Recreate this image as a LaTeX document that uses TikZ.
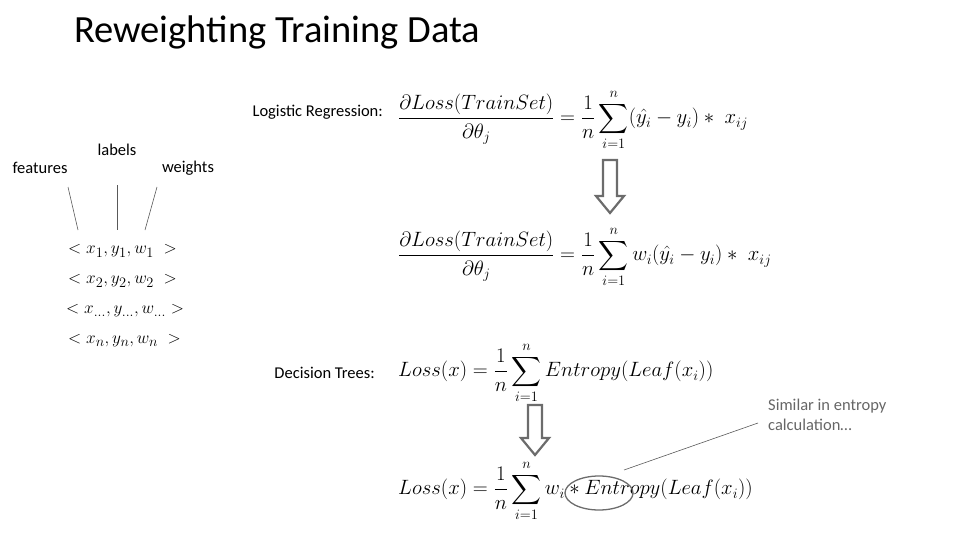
\documentclass[tikz,border=0pt]{standalone}
\usepackage{amsmath}
\usepackage{fontspec}
\setmainfont{Carlito}
\usetikzlibrary{shapes.geometric}
\begin{document}
\begin{tikzpicture}[x=1pt,y=-1pt,
  lbl/.style={font=\fontsize{16.5}{20}\selectfont, inner sep=0pt},
  frm/.style={font=\fontsize{20}{24}\selectfont, inner sep=0pt},
  tup/.style={font=\fontsize{19}{23}\selectfont, inner sep=0pt, anchor=west},
  hollow/.style={draw=gray!85!black, line width=2.2pt, fill=white},
  thin/.style={draw=gray!70!black, line width=0.6pt}]
\useasboundingbox (0,0) rectangle (960,540);
\node[anchor=west, font=\fontsize{38.5}{44}\selectfont, inner sep=0pt] (title) at (74,32) {Reweighting Training Data};
\node[lbl, anchor=east] (lr) at (383,112) {Logistic Regression:};
\node[frm, anchor=west] (f1) at (398,120) {$\displaystyle\frac{\partial Loss(TrainSet)}{\partial\theta_j}=\frac{1}{n}\sum_{i=1}^{n}(\hat{y_i}-y_i)*\;x_{ij}$};
\node[frm, anchor=west] (f2) at (398,257) {$\displaystyle\frac{\partial Loss(TrainSet)}{\partial\theta_j}=\frac{1}{n}\sum_{i=1}^{n}w_i(\hat{y_i}-y_i)*\;x_{ij}$};
\node[lbl, anchor=east] (dt) at (375,373) {Decision Trees:};
\node[frm, anchor=west] (f3) at (398,373) {$\displaystyle Loss(x)=\frac{1}{n}\sum_{i=1}^{n}Entropy(Leaf(x_i))$};
\node[frm, anchor=west] (f4) at (398,491) {$\displaystyle Loss(x)=\frac{1}{n}\sum_{i=1}^{n}w_i*Entropy(Leaf(x_i))$};
% hollow arrows
\draw[hollow] (603,160) -- (617,160) -- (617,196) -- (624,196) -- (610,213) -- (596,196) -- (603,196) -- cycle;
\draw[hollow] (528,405) -- (542,405) -- (542,438) -- (549,438) -- (535,455) -- (521,438) -- (528,438) -- cycle;
% labels
\node[lbl] (feat) at (40,168) {features};
\node[lbl] (labs) at (117,150) {labels};
\node[lbl] (wts) at (188,168) {weights};
\coordinate (fe) at (78,230);
\coordinate (le) at (117,230);
\coordinate (we) at (145,230);
\draw[thin] (68,187) -- (fe);
\draw[thin] (117,185) -- (le);
\draw[thin] (157,187) -- (we);
\node[tup] (t1) at (68,251) {$<x_1,y_1,w_1\;>$};
\node[tup] (t2) at (68,281) {$<x_2,y_2,w_2\;>$};
\node[tup] (t3) at (66,311) {$<x_{\dots},y_{\dots},w_{\dots}>$};
\node[tup] (t4) at (68,341) {$<x_n,y_n,w_n\;>$};
% ellipse and callout
\node[draw=gray!85!black, line width=1.3pt, ellipse, minimum width=68pt, minimum height=34pt, inner sep=0pt] (ell) at (599,493) {};
\node[lbl, anchor=north west, align=left, text=gray!80!black] (sim) at (768,399) {Similar in entropy\\calculation\dots};
\coordinate (ce) at (758,423);
\draw[thin] (624,470) -- (ce);
\end{tikzpicture}
\end{document}
